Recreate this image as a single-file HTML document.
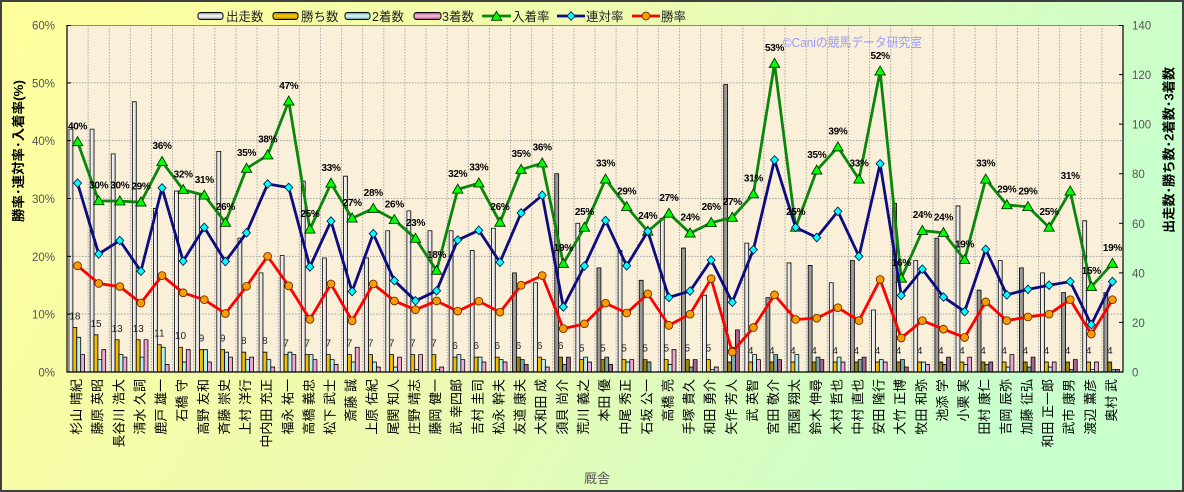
<!DOCTYPE html>
<html><head><meta charset="utf-8"><style>
html,body{margin:0;padding:0;background:#fff}
svg{display:block}
.s0,.s1,.s2,.s3{stroke:#000;stroke-width:0.8;vector-effect:non-scaling-stroke}
.n .s0{fill:url(#g0)} .d .s0{fill:#9a9a9a}
.n .s1{fill:url(#g1)} .d .s1{fill:#a08400}
.n .s2{fill:#b4f2f2} .d .s2{fill:#78a8aa}
.n .s3{fill:#f2a6d6} .d .s3{fill:#a8648c}
.ln{fill:none;stroke-width:2.8;vector-effect:non-scaling-stroke;stroke-linejoin:round}
.cat text{font-size:13px;fill:#000;text-anchor:end}
.wl text{font-size:10px;fill:#222;text-anchor:middle}
.pl text{font-size:10px;font-weight:bold;fill:#000;text-anchor:middle;letter-spacing:-0.3px}
.tk{font-size:11.5px;fill:#555}
.lgd{font-size:12.5px;fill:#222}
</style></head><body>
<svg width="1184" height="492" viewBox="0 0 1184 492" xmlns="http://www.w3.org/2000/svg" font-family="'Liberation Sans','Noto Sans CJK JP',sans-serif">
<defs>
<linearGradient id="bg" x1="0" y1="0" x2="1" y2="0.25"><stop offset="0" stop-color="#ffff9c"/><stop offset="0.5" stop-color="#eefab0"/><stop offset="1" stop-color="#c8ffcc"/></linearGradient>
<linearGradient id="g0" x1="0" y1="0" x2="1" y2="0"><stop offset="0" stop-color="#ffffff"/><stop offset="1" stop-color="#d4d4d4"/></linearGradient>
<linearGradient id="g1" x1="0" y1="0" x2="1" y2="0"><stop offset="0" stop-color="#ffd000"/><stop offset="1" stop-color="#e0a800"/></linearGradient>
<linearGradient id="l0" x1="0" y1="0" x2="0" y2="1"><stop offset="0" stop-color="#909090"/><stop offset="0.5" stop-color="#ffffff"/><stop offset="1" stop-color="#909090"/></linearGradient>
<linearGradient id="l1" x1="0" y1="0" x2="0" y2="1"><stop offset="0" stop-color="#a07800"/><stop offset="0.5" stop-color="#ffd200"/><stop offset="1" stop-color="#a07800"/></linearGradient>
<linearGradient id="l2" x1="0" y1="0" x2="0" y2="1"><stop offset="0" stop-color="#6aa0a0"/><stop offset="0.5" stop-color="#d8ffff"/><stop offset="1" stop-color="#6aa0a0"/></linearGradient>
<linearGradient id="l3" x1="0" y1="0" x2="0" y2="1"><stop offset="0" stop-color="#a05080"/><stop offset="0.5" stop-color="#ffc4e4"/><stop offset="1" stop-color="#a05080"/></linearGradient>
<polygon id="tri" points="0,-5.2 5.2,3.8 -5.2,3.8" fill="#00ff00" stroke="#003300" stroke-width="0.9"/>
<polygon id="dia" points="0,-4.3 4,0 0,4.3 -4,0" fill="#00ffff" stroke="#002050" stroke-width="0.9"/>
<circle id="cir" r="3.9" fill="#ff9a00" stroke="#6a3000" stroke-width="0.9"/>
</defs>

<rect x="0" y="0" width="1184" height="492" fill="url(#bg)"/>
<rect x="1" y="1" width="1182" height="490" fill="none" stroke="#404040" stroke-width="2"/>

<!-- plot area -->
<rect x="67" y="25" width="1056" height="347" fill="#faf0da"/>
<path d="M67 314.17H1123M67 256.33H1123M67 198.5H1123M67 140.67H1123M67 82.83H1123" stroke="#a0a0a0" stroke-width="1" stroke-dasharray="1.5,1.5" fill="none"/>
<path d="M88.12 25V372M109.24 25V372M130.36 25V372M151.48 25V372M172.6 25V372M193.72 25V372M214.84 25V372M235.96 25V372M257.08 25V372M278.2 25V372M299.32 25V372M320.44 25V372M341.56 25V372M362.68 25V372M383.8 25V372M404.92 25V372M426.04 25V372M447.16 25V372M468.28 25V372M489.4 25V372M510.52 25V372M531.64 25V372M552.76 25V372M573.88 25V372M595 25V372M616.12 25V372M637.24 25V372M658.36 25V372M679.48 25V372M700.6 25V372M721.72 25V372M742.84 25V372M763.96 25V372M785.08 25V372M806.2 25V372M827.32 25V372M848.44 25V372M869.56 25V372M890.68 25V372M911.8 25V372M932.92 25V372M954.04 25V372M975.16 25V372M996.28 25V372M1017.4 25V372M1038.52 25V372M1059.64 25V372M1080.76 25V372M1101.88 25V372" stroke="#a8a8a8" stroke-width="1" stroke-dasharray="1.5,1.5" fill="none"/>
<path d="M67 25.5H1123" stroke="#888" stroke-width="1"/>

<!-- watermark -->
<text x="783" y="47" font-size="13" fill="#9a9aff" textLength="139" lengthAdjust="spacingAndGlyphs">©Caniの競馬データ研究室</text>

<!-- bars -->
<g transform="translate(0,372) scale(1,-2.47857)">
<g class="n" transform="translate(67,0)"><rect class="s0" x="2" width="3.9" height="98"/><rect class="s1" x="5.9" width="3.9" height="18"/><rect class="s2" x="9.8" width="3.9" height="14"/><rect class="s3" x="13.7" width="3.9" height="7"/></g>
<g class="n" transform="translate(88.12,0)"><rect class="s0" x="2" width="3.9" height="98"/><rect class="s1" x="5.9" width="3.9" height="15"/><rect class="s2" x="9.8" width="3.9" height="5"/><rect class="s3" x="13.7" width="3.9" height="9"/></g>
<g class="n" transform="translate(109.24,0)"><rect class="s0" x="2" width="3.9" height="88"/><rect class="s1" x="5.9" width="3.9" height="13"/><rect class="s2" x="9.8" width="3.9" height="7"/><rect class="s3" x="13.7" width="3.9" height="6"/></g>
<g class="n" transform="translate(130.36,0)"><rect class="s0" x="2" width="3.9" height="109"/><rect class="s1" x="5.9" width="3.9" height="13"/><rect class="s2" x="9.8" width="3.9" height="6"/><rect class="s3" x="13.7" width="3.9" height="13"/></g>
<g class="n" transform="translate(151.48,0)"><rect class="s0" x="2" width="3.9" height="66"/><rect class="s1" x="5.9" width="3.9" height="11"/><rect class="s2" x="9.8" width="3.9" height="10"/><rect class="s3" x="13.7" width="3.9" height="3"/></g>
<g class="n" transform="translate(172.6,0)"><rect class="s0" x="2" width="3.9" height="73"/><rect class="s1" x="5.9" width="3.9" height="10"/><rect class="s2" x="9.8" width="3.9" height="4"/><rect class="s3" x="13.7" width="3.9" height="9"/></g>
<g class="n" transform="translate(193.72,0)"><rect class="s0" x="2" width="3.9" height="72"/><rect class="s1" x="5.9" width="3.9" height="9"/><rect class="s2" x="9.8" width="3.9" height="9"/><rect class="s3" x="13.7" width="3.9" height="4"/></g>
<g class="n" transform="translate(214.84,0)"><rect class="s0" x="2" width="3.9" height="89"/><rect class="s1" x="5.9" width="3.9" height="9"/><rect class="s2" x="9.8" width="3.9" height="8"/><rect class="s3" x="13.7" width="3.9" height="6"/></g>
<g class="n" transform="translate(235.96,0)"><rect class="s0" x="2" width="3.9" height="54"/><rect class="s1" x="5.9" width="3.9" height="8"/><rect class="s2" x="9.8" width="3.9" height="5"/><rect class="s3" x="13.7" width="3.9" height="6"/></g>
<g class="n" transform="translate(257.08,0)"><rect class="s0" x="2" width="3.9" height="40"/><rect class="s1" x="5.9" width="3.9" height="8"/><rect class="s2" x="9.8" width="3.9" height="5"/><rect class="s3" x="13.7" width="3.9" height="2"/></g>
<g class="n" transform="translate(278.2,0)"><rect class="s0" x="2" width="3.9" height="47"/><rect class="s1" x="5.9" width="3.9" height="7"/><rect class="s2" x="9.8" width="3.9" height="8"/><rect class="s3" x="13.7" width="3.9" height="7"/></g>
<g class="n" transform="translate(299.32,0)"><rect class="s0" x="2" width="3.9" height="77"/><rect class="s1" x="5.9" width="3.9" height="7"/><rect class="s2" x="9.8" width="3.9" height="7"/><rect class="s3" x="13.7" width="3.9" height="5"/></g>
<g class="n" transform="translate(320.44,0)"><rect class="s0" x="2" width="3.9" height="46"/><rect class="s1" x="5.9" width="3.9" height="7"/><rect class="s2" x="9.8" width="3.9" height="5"/><rect class="s3" x="13.7" width="3.9" height="3"/></g>
<g class="n" transform="translate(341.56,0)"><rect class="s0" x="2" width="3.9" height="79"/><rect class="s1" x="5.9" width="3.9" height="7"/><rect class="s2" x="9.8" width="3.9" height="4"/><rect class="s3" x="13.7" width="3.9" height="10"/></g>
<g class="n" transform="translate(362.68,0)"><rect class="s0" x="2" width="3.9" height="46"/><rect class="s1" x="5.9" width="3.9" height="7"/><rect class="s2" x="9.8" width="3.9" height="4"/><rect class="s3" x="13.7" width="3.9" height="2"/></g>
<g class="n" transform="translate(383.8,0)"><rect class="s0" x="2" width="3.9" height="57"/><rect class="s1" x="5.9" width="3.9" height="7"/><rect class="s2" x="9.8" width="3.9" height="2"/><rect class="s3" x="13.7" width="3.9" height="6"/></g>
<g class="n" transform="translate(404.92,0)"><rect class="s0" x="2" width="3.9" height="65"/><rect class="s1" x="5.9" width="3.9" height="7"/><rect class="s2" x="9.8" width="3.9" height="1"/><rect class="s3" x="13.7" width="3.9" height="7"/></g>
<g class="n" transform="translate(426.04,0)"><rect class="s0" x="2" width="3.9" height="57"/><rect class="s1" x="5.9" width="3.9" height="7"/><rect class="s2" x="9.8" width="3.9" height="1"/><rect class="s3" x="13.7" width="3.9" height="2"/></g>
<g class="n" transform="translate(447.16,0)"><rect class="s0" x="2" width="3.9" height="57"/><rect class="s1" x="5.9" width="3.9" height="6"/><rect class="s2" x="9.8" width="3.9" height="7"/><rect class="s3" x="13.7" width="3.9" height="5"/></g>
<g class="n" transform="translate(468.28,0)"><rect class="s0" x="2" width="3.9" height="49"/><rect class="s1" x="5.9" width="3.9" height="6"/><rect class="s2" x="9.8" width="3.9" height="6"/><rect class="s3" x="13.7" width="3.9" height="4"/></g>
<g class="n" transform="translate(489.4,0)"><rect class="s0" x="2" width="3.9" height="58"/><rect class="s1" x="5.9" width="3.9" height="6"/><rect class="s2" x="9.8" width="3.9" height="5"/><rect class="s3" x="13.7" width="3.9" height="4"/></g>
<g class="d" transform="translate(510.52,0)"><rect class="s0" x="2" width="3.9" height="40"/><rect class="s1" x="5.9" width="3.9" height="6"/><rect class="s2" x="9.8" width="3.9" height="5"/><rect class="s3" x="13.7" width="3.9" height="3"/></g>
<g class="n" transform="translate(531.64,0)"><rect class="s0" x="2" width="3.9" height="36"/><rect class="s1" x="5.9" width="3.9" height="6"/><rect class="s2" x="9.8" width="3.9" height="5"/><rect class="s3" x="13.7" width="3.9" height="2"/></g>
<g class="d" transform="translate(552.76,0)"><rect class="s0" x="2" width="3.9" height="80"/><rect class="s1" x="5.9" width="3.9" height="6"/><rect class="s2" x="9.8" width="3.9" height="3"/><rect class="s3" x="13.7" width="3.9" height="6"/></g>
<g class="n" transform="translate(573.88,0)"><rect class="s0" x="2" width="3.9" height="60"/><rect class="s1" x="5.9" width="3.9" height="5"/><rect class="s2" x="9.8" width="3.9" height="6"/><rect class="s3" x="13.7" width="3.9" height="4"/></g>
<g class="d" transform="translate(595,0)"><rect class="s0" x="2" width="3.9" height="42"/><rect class="s1" x="5.9" width="3.9" height="5"/><rect class="s2" x="9.8" width="3.9" height="6"/><rect class="s3" x="13.7" width="3.9" height="3"/></g>
<g class="n" transform="translate(616.12,0)"><rect class="s0" x="2" width="3.9" height="49"/><rect class="s1" x="5.9" width="3.9" height="5"/><rect class="s2" x="9.8" width="3.9" height="4"/><rect class="s3" x="13.7" width="3.9" height="5"/></g>
<g class="d" transform="translate(637.24,0)"><rect class="s0" x="2" width="3.9" height="37"/><rect class="s1" x="5.9" width="3.9" height="5"/><rect class="s2" x="9.8" width="3.9" height="4"/></g>
<g class="n" transform="translate(658.36,0)"><rect class="s0" x="2" width="3.9" height="62"/><rect class="s1" x="5.9" width="3.9" height="5"/><rect class="s2" x="9.8" width="3.9" height="3"/><rect class="s3" x="13.7" width="3.9" height="9"/></g>
<g class="d" transform="translate(679.48,0)"><rect class="s0" x="2" width="3.9" height="50"/><rect class="s1" x="5.9" width="3.9" height="5"/><rect class="s2" x="9.8" width="3.9" height="2"/><rect class="s3" x="13.7" width="3.9" height="5"/></g>
<g class="n" transform="translate(700.6,0)"><rect class="s0" x="2" width="3.9" height="31"/><rect class="s1" x="5.9" width="3.9" height="5"/><rect class="s2" x="9.8" width="3.9" height="1"/><rect class="s3" x="13.7" width="3.9" height="2"/></g>
<g class="d" transform="translate(721.72,0)"><rect class="s0" x="2" width="3.9" height="116"/><rect class="s1" x="5.9" width="3.9" height="4"/><rect class="s2" x="9.8" width="3.9" height="10"/><rect class="s3" x="13.7" width="3.9" height="17"/></g>
<g class="n" transform="translate(742.84,0)"><rect class="s0" x="2" width="3.9" height="52"/><rect class="s1" x="5.9" width="3.9" height="4"/><rect class="s2" x="9.8" width="3.9" height="7"/><rect class="s3" x="13.7" width="3.9" height="5"/></g>
<g class="d" transform="translate(763.96,0)"><rect class="s0" x="2" width="3.9" height="30"/><rect class="s1" x="5.9" width="3.9" height="4"/><rect class="s2" x="9.8" width="3.9" height="7"/><rect class="s3" x="13.7" width="3.9" height="5"/></g>
<g class="n" transform="translate(785.08,0)"><rect class="s0" x="2" width="3.9" height="44"/><rect class="s1" x="5.9" width="3.9" height="4"/><rect class="s2" x="9.8" width="3.9" height="7"/></g>
<g class="d" transform="translate(806.2,0)"><rect class="s0" x="2" width="3.9" height="43"/><rect class="s1" x="5.9" width="3.9" height="4"/><rect class="s2" x="9.8" width="3.9" height="6"/><rect class="s3" x="13.7" width="3.9" height="5"/></g>
<g class="n" transform="translate(827.32,0)"><rect class="s0" x="2" width="3.9" height="36"/><rect class="s1" x="5.9" width="3.9" height="4"/><rect class="s2" x="9.8" width="3.9" height="6"/><rect class="s3" x="13.7" width="3.9" height="4"/></g>
<g class="d" transform="translate(848.44,0)"><rect class="s0" x="2" width="3.9" height="45"/><rect class="s1" x="5.9" width="3.9" height="4"/><rect class="s2" x="9.8" width="3.9" height="5"/><rect class="s3" x="13.7" width="3.9" height="6"/></g>
<g class="n" transform="translate(869.56,0)"><rect class="s0" x="2" width="3.9" height="25"/><rect class="s1" x="5.9" width="3.9" height="4"/><rect class="s2" x="9.8" width="3.9" height="5"/><rect class="s3" x="13.7" width="3.9" height="4"/></g>
<g class="d" transform="translate(890.68,0)"><rect class="s0" x="2" width="3.9" height="68"/><rect class="s1" x="5.9" width="3.9" height="4"/><rect class="s2" x="9.8" width="3.9" height="5"/><rect class="s3" x="13.7" width="3.9" height="2"/></g>
<g class="n" transform="translate(911.8,0)"><rect class="s0" x="2" width="3.9" height="45"/><rect class="s1" x="5.9" width="3.9" height="4"/><rect class="s2" x="9.8" width="3.9" height="4"/><rect class="s3" x="13.7" width="3.9" height="3"/></g>
<g class="d" transform="translate(932.92,0)"><rect class="s0" x="2" width="3.9" height="54"/><rect class="s1" x="5.9" width="3.9" height="4"/><rect class="s2" x="9.8" width="3.9" height="3"/><rect class="s3" x="13.7" width="3.9" height="6"/></g>
<g class="n" transform="translate(954.04,0)"><rect class="s0" x="2" width="3.9" height="67"/><rect class="s1" x="5.9" width="3.9" height="4"/><rect class="s2" x="9.8" width="3.9" height="3"/><rect class="s3" x="13.7" width="3.9" height="6"/></g>
<g class="d" transform="translate(975.16,0)"><rect class="s0" x="2" width="3.9" height="33"/><rect class="s1" x="5.9" width="3.9" height="4"/><rect class="s2" x="9.8" width="3.9" height="3"/><rect class="s3" x="13.7" width="3.9" height="4"/></g>
<g class="n" transform="translate(996.28,0)"><rect class="s0" x="2" width="3.9" height="45"/><rect class="s1" x="5.9" width="3.9" height="4"/><rect class="s2" x="9.8" width="3.9" height="2"/><rect class="s3" x="13.7" width="3.9" height="7"/></g>
<g class="d" transform="translate(1017.4,0)"><rect class="s0" x="2" width="3.9" height="42"/><rect class="s1" x="5.9" width="3.9" height="4"/><rect class="s2" x="9.8" width="3.9" height="2"/><rect class="s3" x="13.7" width="3.9" height="6"/></g>
<g class="n" transform="translate(1038.52,0)"><rect class="s0" x="2" width="3.9" height="40"/><rect class="s1" x="5.9" width="3.9" height="4"/><rect class="s2" x="9.8" width="3.9" height="2"/><rect class="s3" x="13.7" width="3.9" height="4"/></g>
<g class="d" transform="translate(1059.64,0)"><rect class="s0" x="2" width="3.9" height="32"/><rect class="s1" x="5.9" width="3.9" height="4"/><rect class="s2" x="9.8" width="3.9" height="1"/><rect class="s3" x="13.7" width="3.9" height="5"/></g>
<g class="n" transform="translate(1080.76,0)"><rect class="s0" x="2" width="3.9" height="61"/><rect class="s1" x="5.9" width="3.9" height="4"/><rect class="s2" x="9.8" width="3.9" height="1"/><rect class="s3" x="13.7" width="3.9" height="4"/></g>
<g class="d" transform="translate(1101.88,0)"><rect class="s0" x="2" width="3.9" height="32"/><rect class="s1" x="5.9" width="3.9" height="4"/><rect class="s2" x="9.8" width="3.9" height="1"/><rect class="s3" x="13.7" width="3.9" height="1"/></g>
</g>

<!-- win count labels -->
<g class="wl">
<text x="74.86" y="319.4">18</text><text x="95.98" y="326.8">15</text><text x="117.10" y="331.8">13</text><text x="138.22" y="331.8">13</text><text x="159.34" y="336.7">11</text><text x="180.46" y="339.2">10</text><text x="201.58" y="341.7">9</text><text x="222.70" y="341.7">9</text><text x="243.82" y="344.2">8</text><text x="264.94" y="344.2">8</text>
<text x="286.06" y="346.6">7</text><text x="307.18" y="346.6">7</text><text x="328.30" y="346.6">7</text><text x="349.42" y="346.6">7</text><text x="370.54" y="346.6">7</text><text x="391.66" y="346.6">7</text><text x="412.78" y="346.6">7</text><text x="433.90" y="346.6">7</text>
<text x="455.02" y="349.1">6</text><text x="476.14" y="349.1">6</text><text x="497.26" y="349.1">6</text><text x="518.38" y="349.1">6</text><text x="539.50" y="349.1">6</text><text x="560.62" y="349.1">6</text>
<text x="581.74" y="351.6">5</text><text x="602.86" y="351.6">5</text><text x="623.98" y="351.6">5</text><text x="645.10" y="351.6">5</text><text x="666.22" y="351.6">5</text><text x="687.34" y="351.6">5</text><text x="708.46" y="351.6">5</text>
<text x="729.58" y="354.1">4</text><text x="750.70" y="354.1">4</text><text x="771.82" y="354.1">4</text><text x="792.94" y="354.1">4</text><text x="814.06" y="354.1">4</text><text x="835.18" y="354.1">4</text><text x="856.30" y="354.1">4</text><text x="877.42" y="354.1">4</text><text x="898.54" y="354.1">4</text><text x="919.66" y="354.1">4</text><text x="940.78" y="354.1">4</text><text x="961.90" y="354.1">4</text><text x="983.02" y="354.1">4</text><text x="1004.14" y="354.1">4</text><text x="1025.26" y="354.1">4</text><text x="1046.38" y="354.1">4</text><text x="1067.50" y="354.1">4</text><text x="1088.62" y="354.1">4</text><text x="1109.74" y="354.1">4</text>
</g>

<!-- lines (percent space) -->
<g transform="translate(0,372) scale(1,-5.783333)">
<polyline class="ln" stroke="#0a860a" points="77.56,39.80 98.68,29.59 119.80,29.55 140.92,29.36 162.04,36.36 183.16,31.51 204.28,30.56 225.40,25.84 246.52,35.19 267.64,37.50 288.76,46.81 309.88,24.68 331.00,32.61 352.12,26.58 373.24,28.26 394.36,26.32 415.48,23.08 436.60,17.54 457.72,31.58 478.84,32.65 499.96,25.86 521.08,35.00 542.20,36.11 563.32,18.75 584.44,25.00 605.56,33.33 626.68,28.57 647.80,24.32 668.92,27.42 690.04,24.00 711.16,25.81 732.28,26.72 753.40,30.77 774.52,53.33 795.64,25.00 816.76,34.88 837.88,38.89 859.00,33.33 880.12,52.00 901.24,16.18 922.36,24.44 943.48,24.07 964.60,19.40 985.72,33.33 1006.84,28.89 1027.96,28.57 1049.08,25.00 1070.20,31.25 1091.32,14.75 1112.44,18.75"/>
<g>
<use href="#tri" transform="translate(77.56,39.80) scale(1,-0.172911)"/><use href="#tri" transform="translate(98.68,29.59) scale(1,-0.172911)"/><use href="#tri" transform="translate(119.80,29.55) scale(1,-0.172911)"/><use href="#tri" transform="translate(140.92,29.36) scale(1,-0.172911)"/><use href="#tri" transform="translate(162.04,36.36) scale(1,-0.172911)"/><use href="#tri" transform="translate(183.16,31.51) scale(1,-0.172911)"/><use href="#tri" transform="translate(204.28,30.56) scale(1,-0.172911)"/><use href="#tri" transform="translate(225.40,25.84) scale(1,-0.172911)"/><use href="#tri" transform="translate(246.52,35.19) scale(1,-0.172911)"/><use href="#tri" transform="translate(267.64,37.50) scale(1,-0.172911)"/>
<use href="#tri" transform="translate(288.76,46.81) scale(1,-0.172911)"/><use href="#tri" transform="translate(309.88,24.68) scale(1,-0.172911)"/><use href="#tri" transform="translate(331.00,32.61) scale(1,-0.172911)"/><use href="#tri" transform="translate(352.12,26.58) scale(1,-0.172911)"/><use href="#tri" transform="translate(373.24,28.26) scale(1,-0.172911)"/><use href="#tri" transform="translate(394.36,26.32) scale(1,-0.172911)"/><use href="#tri" transform="translate(415.48,23.08) scale(1,-0.172911)"/><use href="#tri" transform="translate(436.60,17.54) scale(1,-0.172911)"/><use href="#tri" transform="translate(457.72,31.58) scale(1,-0.172911)"/><use href="#tri" transform="translate(478.84,32.65) scale(1,-0.172911)"/>
<use href="#tri" transform="translate(499.96,25.86) scale(1,-0.172911)"/><use href="#tri" transform="translate(521.08,35.00) scale(1,-0.172911)"/><use href="#tri" transform="translate(542.20,36.11) scale(1,-0.172911)"/><use href="#tri" transform="translate(563.32,18.75) scale(1,-0.172911)"/><use href="#tri" transform="translate(584.44,25.00) scale(1,-0.172911)"/><use href="#tri" transform="translate(605.56,33.33) scale(1,-0.172911)"/><use href="#tri" transform="translate(626.68,28.57) scale(1,-0.172911)"/><use href="#tri" transform="translate(647.80,24.32) scale(1,-0.172911)"/><use href="#tri" transform="translate(668.92,27.42) scale(1,-0.172911)"/><use href="#tri" transform="translate(690.04,24.00) scale(1,-0.172911)"/>
<use href="#tri" transform="translate(711.16,25.81) scale(1,-0.172911)"/><use href="#tri" transform="translate(732.28,26.72) scale(1,-0.172911)"/><use href="#tri" transform="translate(753.40,30.77) scale(1,-0.172911)"/><use href="#tri" transform="translate(774.52,53.33) scale(1,-0.172911)"/><use href="#tri" transform="translate(795.64,25.00) scale(1,-0.172911)"/><use href="#tri" transform="translate(816.76,34.88) scale(1,-0.172911)"/><use href="#tri" transform="translate(837.88,38.89) scale(1,-0.172911)"/><use href="#tri" transform="translate(859.00,33.33) scale(1,-0.172911)"/><use href="#tri" transform="translate(880.12,52.00) scale(1,-0.172911)"/><use href="#tri" transform="translate(901.24,16.18) scale(1,-0.172911)"/>
<use href="#tri" transform="translate(922.36,24.44) scale(1,-0.172911)"/><use href="#tri" transform="translate(943.48,24.07) scale(1,-0.172911)"/><use href="#tri" transform="translate(964.60,19.40) scale(1,-0.172911)"/><use href="#tri" transform="translate(985.72,33.33) scale(1,-0.172911)"/><use href="#tri" transform="translate(1006.84,28.89) scale(1,-0.172911)"/><use href="#tri" transform="translate(1027.96,28.57) scale(1,-0.172911)"/><use href="#tri" transform="translate(1049.08,25.00) scale(1,-0.172911)"/><use href="#tri" transform="translate(1070.20,31.25) scale(1,-0.172911)"/><use href="#tri" transform="translate(1091.32,14.75) scale(1,-0.172911)"/><use href="#tri" transform="translate(1112.44,18.75) scale(1,-0.172911)"/>
</g>
<polyline class="ln" stroke="#0c0c80" points="77.56,32.65 98.68,20.41 119.80,22.73 140.92,17.43 162.04,31.82 183.16,19.18 204.28,25.00 225.40,19.10 246.52,24.07 267.64,32.50 288.76,31.91 309.88,18.18 331.00,26.09 352.12,13.92 373.24,23.91 394.36,15.79 415.48,12.31 436.60,14.04 457.72,22.81 478.84,24.49 499.96,18.97 521.08,27.50 542.20,30.56 563.32,11.25 584.44,18.33 605.56,26.19 626.68,18.37 647.80,24.32 668.92,12.90 690.04,14.00 711.16,19.35 732.28,12.07 753.40,21.15 774.52,36.67 795.64,25.00 816.76,23.26 837.88,27.78 859.00,20.00 880.12,36.00 901.24,13.24 922.36,17.78 943.48,12.96 964.60,10.45 985.72,21.21 1006.84,13.33 1027.96,14.29 1049.08,15.00 1070.20,15.63 1091.32,8.20 1112.44,15.63"/>
<g>
<use href="#dia" transform="translate(77.56,32.65) scale(1,-0.172911)"/><use href="#dia" transform="translate(98.68,20.41) scale(1,-0.172911)"/><use href="#dia" transform="translate(119.80,22.73) scale(1,-0.172911)"/><use href="#dia" transform="translate(140.92,17.43) scale(1,-0.172911)"/><use href="#dia" transform="translate(162.04,31.82) scale(1,-0.172911)"/><use href="#dia" transform="translate(183.16,19.18) scale(1,-0.172911)"/><use href="#dia" transform="translate(204.28,25.00) scale(1,-0.172911)"/><use href="#dia" transform="translate(225.40,19.10) scale(1,-0.172911)"/><use href="#dia" transform="translate(246.52,24.07) scale(1,-0.172911)"/><use href="#dia" transform="translate(267.64,32.50) scale(1,-0.172911)"/>
<use href="#dia" transform="translate(288.76,31.91) scale(1,-0.172911)"/><use href="#dia" transform="translate(309.88,18.18) scale(1,-0.172911)"/><use href="#dia" transform="translate(331.00,26.09) scale(1,-0.172911)"/><use href="#dia" transform="translate(352.12,13.92) scale(1,-0.172911)"/><use href="#dia" transform="translate(373.24,23.91) scale(1,-0.172911)"/><use href="#dia" transform="translate(394.36,15.79) scale(1,-0.172911)"/><use href="#dia" transform="translate(415.48,12.31) scale(1,-0.172911)"/><use href="#dia" transform="translate(436.60,14.04) scale(1,-0.172911)"/><use href="#dia" transform="translate(457.72,22.81) scale(1,-0.172911)"/><use href="#dia" transform="translate(478.84,24.49) scale(1,-0.172911)"/>
<use href="#dia" transform="translate(499.96,18.97) scale(1,-0.172911)"/><use href="#dia" transform="translate(521.08,27.50) scale(1,-0.172911)"/><use href="#dia" transform="translate(542.20,30.56) scale(1,-0.172911)"/><use href="#dia" transform="translate(563.32,11.25) scale(1,-0.172911)"/><use href="#dia" transform="translate(584.44,18.33) scale(1,-0.172911)"/><use href="#dia" transform="translate(605.56,26.19) scale(1,-0.172911)"/><use href="#dia" transform="translate(626.68,18.37) scale(1,-0.172911)"/><use href="#dia" transform="translate(647.80,24.32) scale(1,-0.172911)"/><use href="#dia" transform="translate(668.92,12.90) scale(1,-0.172911)"/><use href="#dia" transform="translate(690.04,14.00) scale(1,-0.172911)"/>
<use href="#dia" transform="translate(711.16,19.35) scale(1,-0.172911)"/><use href="#dia" transform="translate(732.28,12.07) scale(1,-0.172911)"/><use href="#dia" transform="translate(753.40,21.15) scale(1,-0.172911)"/><use href="#dia" transform="translate(774.52,36.67) scale(1,-0.172911)"/><use href="#dia" transform="translate(795.64,25.00) scale(1,-0.172911)"/><use href="#dia" transform="translate(816.76,23.26) scale(1,-0.172911)"/><use href="#dia" transform="translate(837.88,27.78) scale(1,-0.172911)"/><use href="#dia" transform="translate(859.00,20.00) scale(1,-0.172911)"/><use href="#dia" transform="translate(880.12,36.00) scale(1,-0.172911)"/><use href="#dia" transform="translate(901.24,13.24) scale(1,-0.172911)"/>
<use href="#dia" transform="translate(922.36,17.78) scale(1,-0.172911)"/><use href="#dia" transform="translate(943.48,12.96) scale(1,-0.172911)"/><use href="#dia" transform="translate(964.60,10.45) scale(1,-0.172911)"/><use href="#dia" transform="translate(985.72,21.21) scale(1,-0.172911)"/><use href="#dia" transform="translate(1006.84,13.33) scale(1,-0.172911)"/><use href="#dia" transform="translate(1027.96,14.29) scale(1,-0.172911)"/><use href="#dia" transform="translate(1049.08,15.00) scale(1,-0.172911)"/><use href="#dia" transform="translate(1070.20,15.63) scale(1,-0.172911)"/><use href="#dia" transform="translate(1091.32,8.20) scale(1,-0.172911)"/><use href="#dia" transform="translate(1112.44,15.63) scale(1,-0.172911)"/>
</g>
<polyline class="ln" stroke="#ff0000" points="77.56,18.37 98.68,15.31 119.80,14.77 140.92,11.93 162.04,16.67 183.16,13.70 204.28,12.50 225.40,10.11 246.52,14.81 267.64,20.00 288.76,14.89 309.88,9.09 331.00,15.22 352.12,8.86 373.24,15.22 394.36,12.28 415.48,10.77 436.60,12.28 457.72,10.53 478.84,12.24 499.96,10.34 521.08,15.00 542.20,16.67 563.32,7.50 584.44,8.33 605.56,11.90 626.68,10.20 647.80,13.51 668.92,8.06 690.04,10.00 711.16,16.13 732.28,3.45 753.40,7.69 774.52,13.33 795.64,9.09 816.76,9.30 837.88,11.11 859.00,8.89 880.12,16.00 901.24,5.88 922.36,8.89 943.48,7.41 964.60,5.97 985.72,12.12 1006.84,8.89 1027.96,9.52 1049.08,10.00 1070.20,12.50 1091.32,6.56 1112.44,12.50"/>
<g>
<use href="#cir" transform="translate(77.56,18.37) scale(1,-0.172911)"/><use href="#cir" transform="translate(98.68,15.31) scale(1,-0.172911)"/><use href="#cir" transform="translate(119.80,14.77) scale(1,-0.172911)"/><use href="#cir" transform="translate(140.92,11.93) scale(1,-0.172911)"/><use href="#cir" transform="translate(162.04,16.67) scale(1,-0.172911)"/><use href="#cir" transform="translate(183.16,13.70) scale(1,-0.172911)"/><use href="#cir" transform="translate(204.28,12.50) scale(1,-0.172911)"/><use href="#cir" transform="translate(225.40,10.11) scale(1,-0.172911)"/><use href="#cir" transform="translate(246.52,14.81) scale(1,-0.172911)"/><use href="#cir" transform="translate(267.64,20.00) scale(1,-0.172911)"/>
<use href="#cir" transform="translate(288.76,14.89) scale(1,-0.172911)"/><use href="#cir" transform="translate(309.88,9.09) scale(1,-0.172911)"/><use href="#cir" transform="translate(331.00,15.22) scale(1,-0.172911)"/><use href="#cir" transform="translate(352.12,8.86) scale(1,-0.172911)"/><use href="#cir" transform="translate(373.24,15.22) scale(1,-0.172911)"/><use href="#cir" transform="translate(394.36,12.28) scale(1,-0.172911)"/><use href="#cir" transform="translate(415.48,10.77) scale(1,-0.172911)"/><use href="#cir" transform="translate(436.60,12.28) scale(1,-0.172911)"/><use href="#cir" transform="translate(457.72,10.53) scale(1,-0.172911)"/><use href="#cir" transform="translate(478.84,12.24) scale(1,-0.172911)"/>
<use href="#cir" transform="translate(499.96,10.34) scale(1,-0.172911)"/><use href="#cir" transform="translate(521.08,15.00) scale(1,-0.172911)"/><use href="#cir" transform="translate(542.20,16.67) scale(1,-0.172911)"/><use href="#cir" transform="translate(563.32,7.50) scale(1,-0.172911)"/><use href="#cir" transform="translate(584.44,8.33) scale(1,-0.172911)"/><use href="#cir" transform="translate(605.56,11.90) scale(1,-0.172911)"/><use href="#cir" transform="translate(626.68,10.20) scale(1,-0.172911)"/><use href="#cir" transform="translate(647.80,13.51) scale(1,-0.172911)"/><use href="#cir" transform="translate(668.92,8.06) scale(1,-0.172911)"/><use href="#cir" transform="translate(690.04,10.00) scale(1,-0.172911)"/>
<use href="#cir" transform="translate(711.16,16.13) scale(1,-0.172911)"/><use href="#cir" transform="translate(732.28,3.45) scale(1,-0.172911)"/><use href="#cir" transform="translate(753.40,7.69) scale(1,-0.172911)"/><use href="#cir" transform="translate(774.52,13.33) scale(1,-0.172911)"/><use href="#cir" transform="translate(795.64,9.09) scale(1,-0.172911)"/><use href="#cir" transform="translate(816.76,9.30) scale(1,-0.172911)"/><use href="#cir" transform="translate(837.88,11.11) scale(1,-0.172911)"/><use href="#cir" transform="translate(859.00,8.89) scale(1,-0.172911)"/><use href="#cir" transform="translate(880.12,16.00) scale(1,-0.172911)"/><use href="#cir" transform="translate(901.24,5.88) scale(1,-0.172911)"/>
<use href="#cir" transform="translate(922.36,8.89) scale(1,-0.172911)"/><use href="#cir" transform="translate(943.48,7.41) scale(1,-0.172911)"/><use href="#cir" transform="translate(964.60,5.97) scale(1,-0.172911)"/><use href="#cir" transform="translate(985.72,12.12) scale(1,-0.172911)"/><use href="#cir" transform="translate(1006.84,8.89) scale(1,-0.172911)"/><use href="#cir" transform="translate(1027.96,9.52) scale(1,-0.172911)"/><use href="#cir" transform="translate(1049.08,10.00) scale(1,-0.172911)"/><use href="#cir" transform="translate(1070.20,12.50) scale(1,-0.172911)"/><use href="#cir" transform="translate(1091.32,6.56) scale(1,-0.172911)"/><use href="#cir" transform="translate(1112.44,12.50) scale(1,-0.172911)"/>
</g>
<!-- place rate labels -->
<g class="pl">
<text transform="translate(77.56,39.80) scale(1,-0.172911)" y="-12.5">40%</text><text transform="translate(98.68,29.59) scale(1,-0.172911)" y="-12.5">30%</text><text transform="translate(119.80,29.55) scale(1,-0.172911)" y="-12.5">30%</text><text transform="translate(140.92,29.36) scale(1,-0.172911)" y="-12.5">29%</text><text transform="translate(162.04,36.36) scale(1,-0.172911)" y="-12.5">36%</text><text transform="translate(183.16,31.51) scale(1,-0.172911)" y="-12.5">32%</text><text transform="translate(204.28,30.56) scale(1,-0.172911)" y="-12.5">31%</text><text transform="translate(225.40,25.84) scale(1,-0.172911)" y="-12.5">26%</text><text transform="translate(246.52,35.19) scale(1,-0.172911)" y="-12.5">35%</text><text transform="translate(267.64,37.50) scale(1,-0.172911)" y="-12.5">38%</text>
<text transform="translate(288.76,46.81) scale(1,-0.172911)" y="-12.5">47%</text><text transform="translate(309.88,24.68) scale(1,-0.172911)" y="-12.5">25%</text><text transform="translate(331.00,32.61) scale(1,-0.172911)" y="-12.5">33%</text><text transform="translate(352.12,26.58) scale(1,-0.172911)" y="-12.5">27%</text><text transform="translate(373.24,28.26) scale(1,-0.172911)" y="-12.5">28%</text><text transform="translate(394.36,26.32) scale(1,-0.172911)" y="-12.5">26%</text><text transform="translate(415.48,23.08) scale(1,-0.172911)" y="-12.5">23%</text><text transform="translate(436.60,17.54) scale(1,-0.172911)" y="-12.5">18%</text><text transform="translate(457.72,31.58) scale(1,-0.172911)" y="-12.5">32%</text><text transform="translate(478.84,32.65) scale(1,-0.172911)" y="-12.5">33%</text>
<text transform="translate(499.96,25.86) scale(1,-0.172911)" y="-12.5">26%</text><text transform="translate(521.08,35.00) scale(1,-0.172911)" y="-12.5">35%</text><text transform="translate(542.20,36.11) scale(1,-0.172911)" y="-12.5">36%</text><text transform="translate(563.32,18.75) scale(1,-0.172911)" y="-12.5">19%</text><text transform="translate(584.44,25.00) scale(1,-0.172911)" y="-12.5">25%</text><text transform="translate(605.56,33.33) scale(1,-0.172911)" y="-12.5">33%</text><text transform="translate(626.68,28.57) scale(1,-0.172911)" y="-12.5">29%</text><text transform="translate(647.80,24.32) scale(1,-0.172911)" y="-12.5">24%</text><text transform="translate(668.92,27.42) scale(1,-0.172911)" y="-12.5">27%</text><text transform="translate(690.04,24.00) scale(1,-0.172911)" y="-12.5">24%</text>
<text transform="translate(711.16,25.81) scale(1,-0.172911)" y="-12.5">26%</text><text transform="translate(732.28,26.72) scale(1,-0.172911)" y="-12.5">27%</text><text transform="translate(753.40,30.77) scale(1,-0.172911)" y="-12.5">31%</text><text transform="translate(774.52,53.33) scale(1,-0.172911)" y="-12.5">53%</text><text transform="translate(795.64,25.00) scale(1,-0.172911)" y="-12.5">25%</text><text transform="translate(816.76,34.88) scale(1,-0.172911)" y="-12.5">35%</text><text transform="translate(837.88,38.89) scale(1,-0.172911)" y="-12.5">39%</text><text transform="translate(859.00,33.33) scale(1,-0.172911)" y="-12.5">33%</text><text transform="translate(880.12,52.00) scale(1,-0.172911)" y="-12.5">52%</text><text transform="translate(901.24,16.18) scale(1,-0.172911)" y="-12.5">16%</text>
<text transform="translate(922.36,24.44) scale(1,-0.172911)" y="-12.5">24%</text><text transform="translate(943.48,24.07) scale(1,-0.172911)" y="-12.5">24%</text><text transform="translate(964.60,19.40) scale(1,-0.172911)" y="-12.5">19%</text><text transform="translate(985.72,33.33) scale(1,-0.172911)" y="-12.5">33%</text><text transform="translate(1006.84,28.89) scale(1,-0.172911)" y="-12.5">29%</text><text transform="translate(1027.96,28.57) scale(1,-0.172911)" y="-12.5">29%</text><text transform="translate(1049.08,25.00) scale(1,-0.172911)" y="-12.5">25%</text><text transform="translate(1070.20,31.25) scale(1,-0.172911)" y="-12.5">31%</text><text transform="translate(1091.32,14.75) scale(1,-0.172911)" y="-12.5">15%</text><text transform="translate(1112.44,18.75) scale(1,-0.172911)" y="-12.5">19%</text>
</g>
</g>

<!-- axes -->
<path d="M67 25V372.5M1123 25V372.5M66.5 372H1123.5" stroke="#000" stroke-width="1.2" fill="none"/>
<path d="M67 314.17h4M67 256.33h4M67 198.5h4M67 140.67h4M67 82.83h4M67 25.5h4M1119 322.43h4M1119 272.86h4M1119 223.29h4M1119 173.71h4M1119 124.14h4M1119 74.57h4M1119 25.5h4" stroke="#000" stroke-width="1" fill="none"/>

<g class="tk" text-anchor="end">
<text x="55" y="29.5">60%</text><text x="55" y="87.3">50%</text><text x="55" y="145.2">40%</text><text x="55" y="203">30%</text><text x="55" y="260.8">20%</text><text x="55" y="318.7">10%</text><text x="55" y="376.5">0%</text>
</g>
<g class="tk">
<text x="1132" y="29.5">140</text><text x="1132" y="79.1">120</text><text x="1132" y="128.6">100</text><text x="1132" y="178.2">80</text><text x="1132" y="227.8">60</text><text x="1132" y="277.4">40</text><text x="1132" y="326.9">20</text><text x="1132" y="376.5">0</text>
</g>

<!-- axis titles -->
<text transform="translate(23,151) rotate(-90)" text-anchor="middle" font-size="13" font-weight="bold" fill="#000" textLength="142" lengthAdjust="spacingAndGlyphs">勝率･連対率･入着率(%)</text>
<text transform="translate(1173.5,150) rotate(-90)" text-anchor="middle" font-size="13" font-weight="bold" fill="#000" textLength="166" lengthAdjust="spacingAndGlyphs">出走数･勝ち数･2着数･3着数</text>
<text x="597" y="483" text-anchor="middle" font-size="13" fill="#555">厩舎</text>

<!-- category labels -->
<g class="cat">
<text transform="translate(81.06,379) rotate(-90)">杉山 晴紀</text>
<text transform="translate(102.18,379) rotate(-90)">藤原 英昭</text>
<text transform="translate(123.30,379) rotate(-90)">長谷川 浩大</text>
<text transform="translate(144.42,379) rotate(-90)">清水 久詞</text>
<text transform="translate(165.54,379) rotate(-90)">鹿戸 雄一</text>
<text transform="translate(186.66,379) rotate(-90)">石橋 守</text>
<text transform="translate(207.78,379) rotate(-90)">高野 友和</text>
<text transform="translate(228.90,379) rotate(-90)">斉藤 崇史</text>
<text transform="translate(250.02,379) rotate(-90)">上村 洋行</text>
<text transform="translate(271.14,379) rotate(-90)">中内田 充正</text>
<text transform="translate(292.26,379) rotate(-90)">福永 祐一</text>
<text transform="translate(313.38,379) rotate(-90)">高橋 義忠</text>
<text transform="translate(334.50,379) rotate(-90)">松下 武士</text>
<text transform="translate(355.62,379) rotate(-90)">斎藤 誠</text>
<text transform="translate(376.74,379) rotate(-90)">上原 佑紀</text>
<text transform="translate(397.86,379) rotate(-90)">尾関 知人</text>
<text transform="translate(418.98,379) rotate(-90)">庄野 靖志</text>
<text transform="translate(440.10,379) rotate(-90)">藤岡 健一</text>
<text transform="translate(461.22,379) rotate(-90)">武 幸四郎</text>
<text transform="translate(482.34,379) rotate(-90)">吉村 圭司</text>
<text transform="translate(503.46,379) rotate(-90)">松永 幹夫</text>
<text transform="translate(524.58,379) rotate(-90)">友道 康夫</text>
<text transform="translate(545.70,379) rotate(-90)">大和田 成</text>
<text transform="translate(566.82,379) rotate(-90)">須貝 尚介</text>
<text transform="translate(587.94,379) rotate(-90)">荒川 義之</text>
<text transform="translate(609.06,379) rotate(-90)">本田 優</text>
<text transform="translate(630.18,379) rotate(-90)">中尾 秀正</text>
<text transform="translate(651.30,379) rotate(-90)">石坂 公一</text>
<text transform="translate(672.42,379) rotate(-90)">高橋 亮</text>
<text transform="translate(693.54,379) rotate(-90)">手塚 貴久</text>
<text transform="translate(714.66,379) rotate(-90)">和田 勇介</text>
<text transform="translate(735.78,379) rotate(-90)">矢作 芳人</text>
<text transform="translate(756.90,379) rotate(-90)">武 英智</text>
<text transform="translate(778.02,379) rotate(-90)">宮田 敬介</text>
<text transform="translate(799.14,379) rotate(-90)">西園 翔太</text>
<text transform="translate(820.26,379) rotate(-90)">鈴木 伸尋</text>
<text transform="translate(841.38,379) rotate(-90)">木村 哲也</text>
<text transform="translate(862.50,379) rotate(-90)">中村 直也</text>
<text transform="translate(883.62,379) rotate(-90)">安田 隆行</text>
<text transform="translate(904.74,379) rotate(-90)">大竹 正博</text>
<text transform="translate(925.86,379) rotate(-90)">牧田 和弥</text>
<text transform="translate(946.98,379) rotate(-90)">池添 学</text>
<text transform="translate(968.10,379) rotate(-90)">小栗 実</text>
<text transform="translate(989.22,379) rotate(-90)">田村 康仁</text>
<text transform="translate(1010.34,379) rotate(-90)">吉岡 辰弥</text>
<text transform="translate(1031.46,379) rotate(-90)">加藤 征弘</text>
<text transform="translate(1052.58,379) rotate(-90)">和田 正一郎</text>
<text transform="translate(1073.70,379) rotate(-90)">武市 康男</text>
<text transform="translate(1094.82,379) rotate(-90)">渡辺 薫彦</text>
<text transform="translate(1115.94,379) rotate(-90)">奥村 武</text>
</g>

<!-- legend -->
<g>
<rect x="198" y="12.5" width="25" height="7" rx="2.5" fill="url(#l0)" stroke="#000" stroke-width="1"/>
<text class="lgd" x="226" y="21">出走数</text>
<rect x="273" y="12.5" width="25" height="7" rx="2.5" fill="url(#l1)" stroke="#000" stroke-width="1"/>
<text class="lgd" x="301" y="21">勝ち数</text>
<rect x="345" y="12.5" width="25" height="7" rx="2.5" fill="url(#l2)" stroke="#000" stroke-width="1"/>
<text class="lgd" x="372" y="21">2着数</text>
<rect x="414" y="12.5" width="27" height="7" rx="2.5" fill="url(#l3)" stroke="#000" stroke-width="1"/>
<text class="lgd" x="442" y="21">3着数</text>
<path d="M482 16H511" stroke="#0a860a" stroke-width="2.8"/>
<use href="#tri" x="496.5" y="16.5"/>
<text class="lgd" x="512" y="21">入着率</text>
<path d="M557 16H585" stroke="#0c0c80" stroke-width="2.8"/>
<use href="#dia" x="571" y="16"/>
<text class="lgd" x="586" y="21">連対率</text>
<path d="M632 16H660" stroke="#ff0000" stroke-width="2.8"/>
<use href="#cir" x="646" y="16"/>
<text class="lgd" x="661" y="21">勝率</text>
</g>
</svg>
</body></html>
